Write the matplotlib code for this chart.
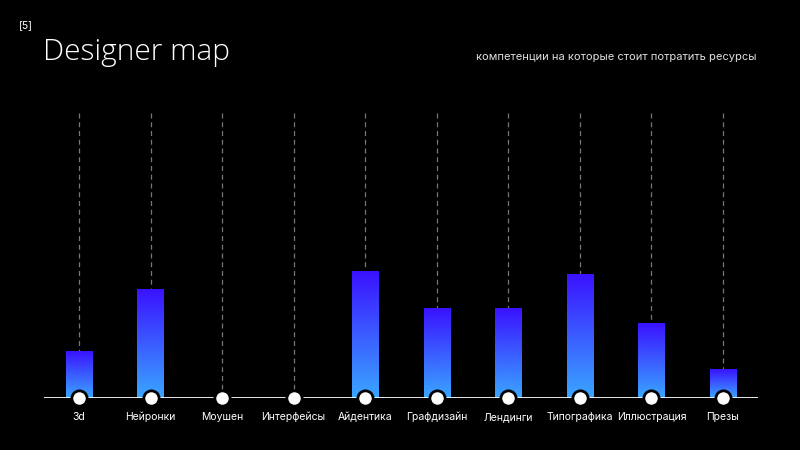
import numpy as np
import matplotlib
matplotlib.use("Agg")
import matplotlib.pyplot as plt
from matplotlib.colors import LinearSegmentedColormap

categories = ["3d", "Нейронки", "Моушен", "Интерфейсы", "Айдентика",
              "Графдизайн", "Лендинги", "Типографика", "Иллюстрация", "Презы"]
values = [16, 37.5, 0, 0, 44, 31, 31, 43, 26, 10]

title = "Designer map"
page_num = "[5]"
subtitle = "компетенции на которые стоит потратить ресурсы"

plt.rcParams['font.family'] = ['Inter', 'DejaVu Sans']

fig = plt.figure(figsize=(8, 4.5), dpi=100)
fig.patch.set_facecolor("black")

ax = fig.add_axes([44/800, 1-398/450, (758-44)/800, 288/450])
ax.set_facecolor("black")
n = len(categories)
x = np.arange(n)

cmap = LinearSegmentedColormap.from_list("g", ["#3aa6ff", "#3a12ff"])
grad = np.linspace(0, 1, 256).reshape(-1, 1)
width = 0.37

for xi, v in zip(x, values):
    ax.plot([xi, xi], [0, 100], color="#777777", lw=0.9,
            linestyle=(0, (4, 3)), zorder=1)
    if v > 0:
        ax.imshow(grad, extent=[xi - width/2, xi + width/2, 0, v],
                  origin="lower", cmap=cmap, aspect="auto", zorder=2,
                  interpolation="bilinear")

ax.axhline(0, color="white", lw=2, zorder=3)
ax.plot(x, np.zeros(n), linestyle="none", marker="o", markersize=11,
        markerfacecolor="white", markeredgecolor="black", markeredgewidth=2,
        zorder=4, clip_on=False)

ax.set_xlim(-0.489, n - 1 + 0.489)
ax.set_ylim(0, 100)
ax.set_xticks(x)
ax.set_xticklabels(categories, color="white", fontsize=7.5)
ax.tick_params(axis="x", length=0, pad=15.5)
for lbl in ax.get_xticklabels():
    lbl.set_verticalalignment("baseline")
ax.set_yticks([])
for s in ax.spines.values():
    s.set_visible(False)

fig.text(19/800, 1-25/450, page_num, color="white", fontsize=7.5,
         va="center", ha="left")
fig.text(43/800, 1-52/450, title, color="white", fontsize=21.5,
         fontweight="light", va="center", ha="left",
         family=["Open Sans", "DejaVu Sans"])
fig.text(757/800, 1-57/450, subtitle, color="#e0e0e0", fontsize=8,
         va="center", ha="right")

fig.savefig("out.png", dpi=100, facecolor="black")
